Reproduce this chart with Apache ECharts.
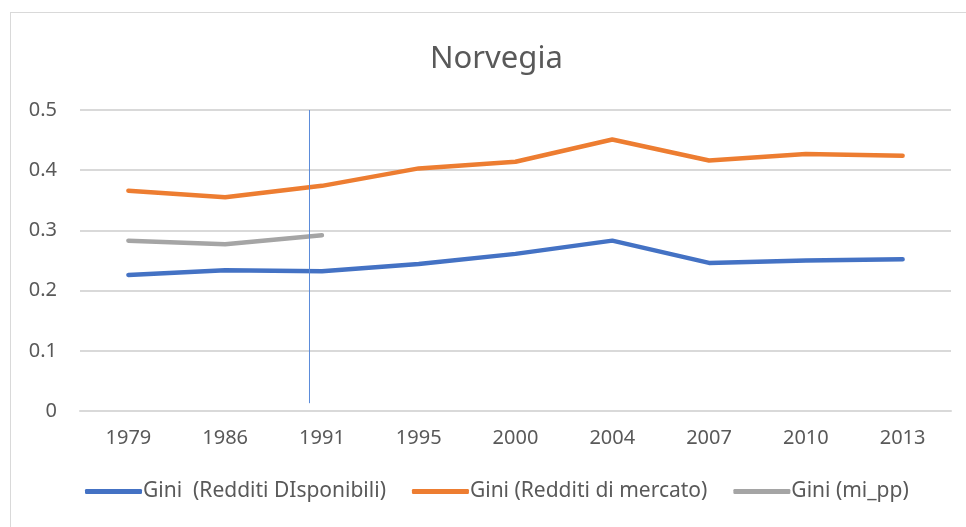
<!DOCTYPE html>
<html>
<head>
<meta charset="utf-8">
<script src="https://cdn.jsdelivr.net/npm/echarts@6/dist/echarts.min.js"></script>
<style>
  html, body { margin: 0; padding: 0; background: #fff; }
  #frame { position: absolute; left: 10px; top: 12px; width: 980px; height: 530px; border: 1px solid #d9d9d9; }
  #main { position: absolute; left: 0; top: 0; width: 966px; height: 527px; }
</style>
</head>
<body>
<div id="frame"></div>
<div id="main"></div>
<script>
// anni
var years = ['1979', '1986', '1991', '1995', '2000', '2004', '2007', '2010', '2013'];
// indici di Gini
var giniDisponibili = [0.226, 0.234, 0.232, 0.244, 0.261, 0.283, 0.246, 0.250, 0.252];
var giniMercato = [0.366, 0.355, 0.374, 0.403, 0.414, 0.451, 0.416, 0.427, 0.424];
var giniMiPp = [0.283, 0.277, 0.292, null, null, null, null, null, null];
var yTicks = [0, 0.1, 0.2, 0.3, 0.4, 0.5];
// linea verticale disegnata a mano, poco prima del 1991 (posizione in indici di categoria)
var markerPos = 1.8714;
var markerRange = [0.5, 0.013];

var font = 'Noto Sans, sans-serif';
var textColor = '#595959';

var myChart = echarts.init(document.getElementById('main'));
myChart.setOption({
    animation: false,
    title: {
        text: 'Norvegia',
        left: 425,
        top: 39,
        textStyle: { fontFamily: font, fontSize: 31, fontWeight: 'normal', color: textColor }
    },
    legend: {
        bottom: 20,
        left: 80,
        itemWidth: 57,
        itemHeight: 5,
        itemGap: 26,
        icon: 'roundRect',
        textStyle: { fontFamily: font, fontSize: 21, color: textColor, padding: [0, 0, 0, -4] },
        data: ['Gini  (Redditi DIsponibili)', 'Gini (Redditi di mercato)', 'Gini (mi_pp)']
    },
    grid: {
        left: 80,
        right: 15,
        top: 110,
        bottom: 116
    },
    xAxis: [
        {
            type: 'category',
            data: years,
            axisLine: { lineStyle: { color: '#d9d9d9', width: 2 } },
            axisTick: { show: false },
            axisLabel: { fontFamily: font, fontSize: 20, color: textColor, margin: 17 }
        },
        {
            // asse nascosto per posizionare la linea verticale
            type: 'value',
            min: -0.5,
            max: years.length - 0.5,
            show: false
        }
    ],
    yAxis: {
        type: 'value',
        min: yTicks[0],
        max: yTicks[yTicks.length - 1],
        interval: 0.1,
        axisLine: { show: false },
        axisTick: { show: false },
        splitLine: { lineStyle: { color: '#d9d9d9', width: 2 } },
        axisLabel: { fontFamily: font, fontSize: 20, color: textColor, margin: 23 }
    },
    series: [
        {
            name: 'Gini  (Redditi DIsponibili)',
            type: 'line',
            data: giniDisponibili,
            symbol: 'none',
            color: '#4472C4',
            lineStyle: { width: 4.5, cap: 'round', join: 'round' }
        },
        {
            name: 'Gini (Redditi di mercato)',
            type: 'line',
            data: giniMercato,
            symbol: 'none',
            color: '#ED7D31',
            lineStyle: { width: 4.5, cap: 'round', join: 'round' }
        },
        {
            name: 'Gini (mi_pp)',
            type: 'line',
            data: giniMiPp,
            symbol: 'none',
            color: '#A5A5A5',
            lineStyle: { width: 4.5, cap: 'round', join: 'round' }
        },
        {
            name: 'marker',
            type: 'line',
            xAxisIndex: 1,
            data: markerRange.map(function (v) { return [markerPos, v]; }),
            symbol: 'none',
            silent: true,
            color: '#5B8BDA',
            lineStyle: { width: 1 }
        }
    ]
});
</script>
</body>
</html>
